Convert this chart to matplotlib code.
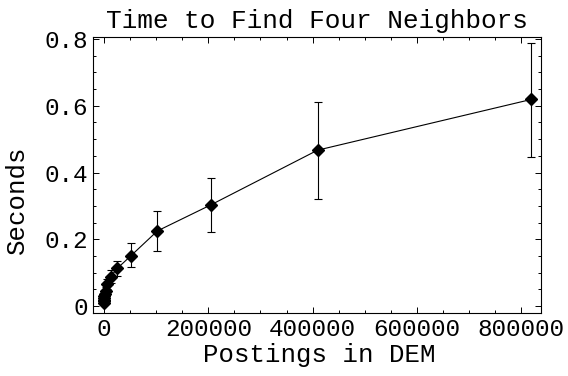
import matplotlib
matplotlib.use("Agg")
import matplotlib.pyplot as plt
from matplotlib.ticker import MultipleLocator, FixedLocator

postings = [50, 100, 200, 400, 800, 1600, 3200, 6400, 12800, 25600, 51200, 102400, 204800, 409600, 819200]
seconds = [0.010, 0.014, 0.018, 0.023, 0.029, 0.036, 0.046, 0.066, 0.088, 0.113, 0.150, 0.225, 0.303, 0.467, 0.619]
err_low = [0.003, 0.004, 0.005, 0.006, 0.007, 0.009, 0.011, 0.015, 0.020, 0.022, 0.034, 0.060, 0.080, 0.146, 0.172]
err_high = [0.003, 0.004, 0.005, 0.006, 0.007, 0.009, 0.011, 0.015, 0.020, 0.022, 0.038, 0.060, 0.080, 0.143, 0.170]

title = "Time to Find Four Neighbors"
xlabel = "Postings in DEM"
ylabel = "Seconds"
xticks = [0, 200000, 400000, 600000, 800000]
xticklabels = ["0", "200000", "400000", "600000", "800000"]
yticks = [0, 0.2, 0.4, 0.6, 0.8]
yticklabels = ["0", "0.2", "0.4", "0.6", "0.8"]

plt.rcParams['font.family'] = ['Liberation Mono', 'DejaVu Sans Mono']

fig = plt.figure(figsize=(5.68, 3.76), dpi=100)
W, H = 568, 376
left, right, top, bottom = 93.3, 540.7, 36.7, 312.7
ax = fig.add_axes([left / W, 1 - bottom / H, (right - left) / W, (bottom - top) / H])

ax.errorbar(postings, seconds, yerr=[err_low, err_high], fmt='-', color='black',
            lw=0.8, elinewidth=0.8, capsize=3.0, capthick=0.8,
            marker='D', markersize=6.5, markerfacecolor='black', markeredgecolor='black')

ax.set_xlim(-20500, 837400)
ax.set_ylim(-0.020, 0.807)

ax.xaxis.set_major_locator(FixedLocator(xticks))
ax.set_xticklabels(xticklabels)
ax.xaxis.set_minor_locator(MultipleLocator(50000))
ax.yaxis.set_major_locator(FixedLocator(yticks))
ax.set_yticklabels(yticklabels)
ax.yaxis.set_minor_locator(MultipleLocator(0.05))

ax.tick_params(which='both', direction='in', top=True, right=True, width=0.7, colors='black')
ax.tick_params(which='major', length=4.5, labelsize=17.5, pad=4)
ax.tick_params(which='minor', length=2.5)
for s in ax.spines.values():
    s.set_linewidth(0.8)

ax.set_title(title, fontsize=18.8, pad=6)
ax.set_xlabel(xlabel, fontsize=18.5)
ax.set_ylabel(ylabel, fontsize=18.5)
ax.xaxis.set_label_coords(0.505, -0.11)
ax.yaxis.set_label_coords(-0.143, 0.41)

fig.savefig("out.png", dpi=100)
